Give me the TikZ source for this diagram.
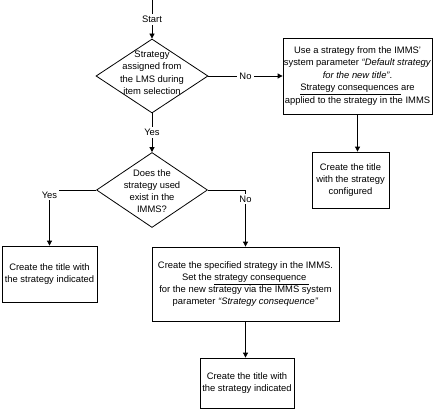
\documentclass[tikz,border=0pt]{standalone}
\usepackage{fontspec}
\setmainfont{Liberation Sans}
\usetikzlibrary{shapes.geometric,arrows.meta}
\begin{document}
\begin{tikzpicture}[x=1pt,y=-1pt,
  line width=0.8pt,
  font=\fontsize{9.4}{12.5}\selectfont,
  box/.style={draw, rectangle, inner sep=0pt, align=center},
  dia/.style={draw, diamond, inner sep=0pt},
  dtext/.style={align=center, inner sep=0pt, font=\fontsize{9.4}{12.5}\selectfont},
  lbl/.style={fill=white, inner sep=2pt},
  arr/.style={-{Triangle[length=5pt,width=5pt]}}]
\useasboundingbox (0,0) rectangle (438,417);

% decisions
\node[dia, minimum width=112pt, minimum height=74pt] (d1) at (152,76) {};
\node[dtext] (d1t) at (152,73) {Strategy\\assigned from\\the LMS during\\item selection};
\node[dia, minimum width=111pt, minimum height=75pt] (d2) at (152,190) {};
\node[dtext, font=\fontsize{9.4}{12}\selectfont] (d2t) at (152,191) {Does the\\strategy used\\exist in the\\IMMS?};

% boxes
\node[box, minimum width=149pt, minimum height=76pt] (b1) at (357.5,76)
  {Use a strategy from the IMMS'\\ system parameter \textit{``Default strategy}\\ \textit{for the new title''}.\\ \underline{Strategy consequences\ }are\\ applied to the strategy in the IMMS};
\node[box, minimum width=77pt, minimum height=56pt, font=\fontsize{9.4}{12}\selectfont] (b2) at (350.5,180)
  {Create the title\\with the strategy\\configured};
\node[box, minimum width=95pt, minimum height=56pt] (b3) at (49.5,274)
  {Create the title with\\the strategy indicated};
\node[box, minimum width=187pt, minimum height=74pt, font=\fontsize{9.4}{12}\selectfont] (b4) at (245.5,284)
  {Create the specified strategy in the IMMS.\\ Set the \underline{strategy consequence\ }\\ for the new strategy via the IMMS system\\ parameter \textit{``Strategy consequence''}};
\node[box, minimum width=94pt, minimum height=50pt] (b5) at (247,383)
  {Create the title with\\the strategy indicated};

% connectors
\coordinate (top) at (152,0);
\draw[arr] (top) -- node[lbl] (lstart) {Start} (d1.north);
\draw[arr] (d1.east) -- node[lbl] (lno1) {No} (b1.west);
\draw[arr] (d1.south) -- node[lbl] (lyes1) {Yes} (d2.north);
\draw[arr] (b1.south) -- (b1.south |- b2.north);
\draw[arr] (d2.west) -| node[lbl, pos=0.5, yshift=-5pt] (lyes2) {Yes} (b3.north);
\draw[arr] (d2.east) -| node[lbl, pos=0.5, yshift=-9pt] (lno2) {No} (b4.north);
\draw[arr] (b4.south) -- (b4.south |- b5.north);
\end{tikzpicture}
\end{document}
